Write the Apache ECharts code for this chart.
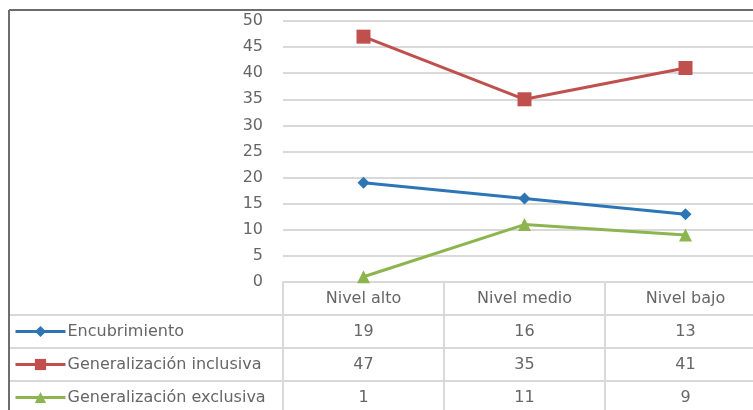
<!DOCTYPE html>
<html>
<head>
<meta charset="utf-8">
<script src="https://cdn.jsdelivr.net/npm/echarts@6/dist/echarts.min.js"></script>
<style>
html,body{margin:0;padding:0;background:#fff;overflow:hidden;width:753px;height:410px;}
#chart{width:780px;height:410px;}
</style>
</head>
<body>
<div id="chart"></div>
<script>
const categories = ['Nivel alto', 'Nivel medio', 'Nivel bajo'];
const seriesNames = ['Encubrimiento', 'Generalización inclusiva', 'Generalización exclusiva'];
const encubrimiento = [19, 16, 13];
const genInclusiva = [47, 35, 41];
const genExclusiva = [1, 11, 9];
const yTicks = { min: 0, max: 50, interval: 5 };

const seriesValues = [encubrimiento, genInclusiva, genExclusiva];
const colors = ['#2E75B6', '#C0504D', '#8DB54F'];
const symbols = ['diamond', 'rect', 'triangle'];
const symbolSizes = [12, 14, 13];

const textColor = '#666666';
const lineColor = '#d9d9d9';
const font = 'DejaVu Sans';
const fontSize = 16;

const chart = echarts.init(document.getElementById('chart'));

const gridLeft = 283, gridTop = 21, gridW = 483, gridH = 261;
const rowH = 33;

const xAxes = [{
  type: 'category',
  data: categories,
  gridIndex: 0,
  position: 'bottom',
  boundaryGap: true,
  axisLine: { show: true, lineStyle: { color: lineColor, width: 2 } },
  axisTick: { show: true, length: 4 * rowH, lineStyle: { color: lineColor, width: 2 } },
  axisLabel: { color: textColor, fontSize: fontSize, fontFamily: font, margin: 9 },
  splitLine: { show: false }
}];
seriesValues.forEach((vals, i) => {
  xAxes.push({
    type: 'category',
    data: vals.map(String),
    gridIndex: 0,
    position: 'bottom',
    offset: rowH * (i + 1),
    boundaryGap: true,
    axisLine: { show: false },
    axisTick: { show: false },
    axisLabel: { color: textColor, fontSize: fontSize, fontFamily: font, margin: 9 },
    splitLine: { show: false }
  });
});

const graphics = [];
for (let r = 1; r <= 3; r++) {
  const y = gridTop + gridH + rowH * r;
  graphics.push({
    type: 'line', silent: true,
    shape: { x1: 9, y1: y, x2: 780, y2: y },
    style: { stroke: lineColor, lineWidth: 2 }
  });
}
graphics.push({
  type: 'line', silent: true,
  shape: { x1: 9, y1: 10, x2: 780, y2: 10 },
  style: { stroke: '#6d6d6d', lineWidth: 2 }
});
graphics.push({
  type: 'line', silent: true,
  shape: { x1: 9, y1: 10, x2: 9, y2: 410 },
  style: { stroke: '#6d6d6d', lineWidth: 2 }
});

const legends = seriesNames.map((name, i) => ({
  orient: 'vertical',
  left: 14,
  top: gridTop + gridH + rowH * (i + 1) + rowH / 2 - 8,
  padding: 0,
  itemWidth: 50,
  itemHeight: 14,
  selectedMode: false,
  lineStyle: { width: 3 },
  textStyle: { color: textColor, fontSize: fontSize, fontFamily: font, lineHeight: 16, padding: [0, 0, 0, -3] },
  data: [name]
}));

chart.setOption({
  animation: false,
  backgroundColor: '#ffffff',
  grid: { left: gridLeft, top: gridTop, width: gridW, height: gridH, containLabel: false },
  legend: legends,
  xAxis: xAxes,
  yAxis: {
    type: 'value',
    min: yTicks.min, max: yTicks.max, interval: yTicks.interval,
    axisLine: { show: false },
    axisTick: { show: false },
    axisLabel: { color: textColor, fontSize: fontSize, fontFamily: font, margin: 20 },
    splitLine: { show: true, lineStyle: { color: lineColor, width: 2 } }
  },
  series: seriesValues.map((vals, i) => ({
    name: seriesNames[i],
    type: 'line',
    data: vals,
    xAxisIndex: 0,
    symbol: symbols[i],
    symbolSize: symbolSizes[i],
    itemStyle: { color: colors[i] },
    lineStyle: { color: colors[i], width: 3 },
    z: 3
  })),
  graphic: graphics
});
</script>
</body>
</html>
